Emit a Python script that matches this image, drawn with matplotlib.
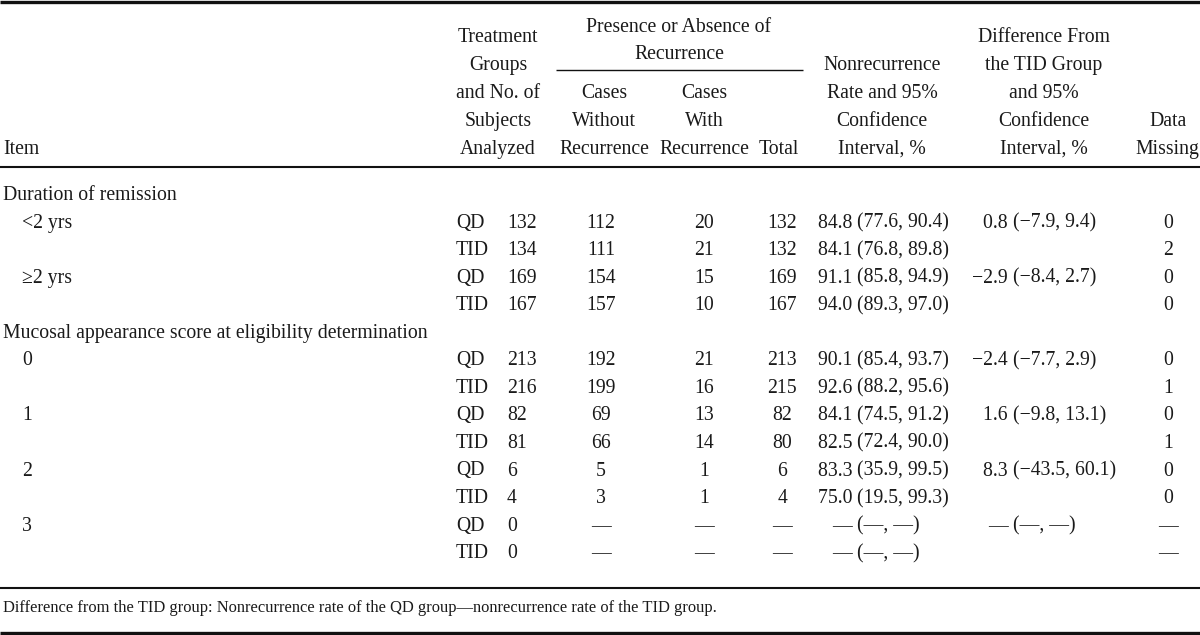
import matplotlib
matplotlib.use("Agg")
import matplotlib.pyplot as plt

# ---------------- data ----------------
sections = ["Duration of remission",
            "Mucosal appearance score at eligibility determination"]
subgroups = ["<2 yrs", "\u22652 yrs", "0", "1", "2", "3"]
subgroup_section = [0, 0, 1, 1, 1, 1]
treatment = ["QD", "TID"] * 6
n_analyzed = [132, 134, 169, 167, 213, 216, 82, 81, 6, 4, 0, 0]
cases_without = [112, 111, 154, 157, 192, 199, 69, 66, 5, 3, None, None]
cases_with = [20, 21, 15, 10, 21, 16, 13, 14, 1, 1, None, None]
totals = [132, 132, 169, 167, 213, 215, 82, 80, 6, 4, None, None]
rate = [84.8, 84.1, 91.1, 94.0, 90.1, 92.6, 84.1, 82.5, 83.3, 75.0, None, None]
rate_lo = [77.6, 76.8, 85.8, 89.3, 85.4, 88.2, 74.5, 72.4, 35.9, 19.5, None, None]
rate_hi = [90.4, 89.8, 94.9, 97.0, 93.7, 95.6, 91.2, 90.0, 99.5, 99.3, None, None]
diff = [0.8, -2.9, -2.4, 1.6, 8.3, None]
diff_lo = [-7.9, -8.4, -7.7, -9.8, -43.5, None]
diff_hi = [9.4, 2.7, 2.9, 13.1, 60.1, None]
missing = [0, 2, 0, 0, 0, 1, 0, 1, 0, 0, None, None]
footnote = ("Difference from the TID group: Nonrecurrence rate of the QD group\u2014"
            "nonrecurrence rate of the TID group.")

DASH = "\u2014"


def fmt(v):
    if v is None:
        return DASH
    s = f"{abs(v):.1f}"
    return ("\u2212" + s) if v < 0 else s


def fmt_int(v):
    return DASH if v is None else str(v)


# ---------------- figure ----------------
W, H = 1200, 635
fig = plt.figure(figsize=(W / 100, H / 100), dpi=100)
ax = fig.add_axes([0, 0, 1, 1])
ax.set_xlim(0, W)
ax.set_ylim(H, 0)
ax.axis("off")

FONT = "Liberation Serif"
FS = 14.2
FS_NOTE = 11.9
COL = "#1a1a1a"


def t(x, y, s, ha="left", fs=FS):
    ax.text(x, y, s, ha=ha, va="baseline", fontsize=fs, family=FONT, color=COL)


def hline(y, x0, x1, lw):
    ax.plot([x0, x1], [y, y], color="#111111", lw=lw, solid_capstyle="butt")


# rules
hline(1.5, 0, W, 2.4)
hline(166.5, 0, W, 1.5)
hline(70, 556, 803, 1.0)
hline(588, 0, W, 1.5)
hline(632.5, 0, W, 2.4)

# header
hb = [42, 70, 98, 126, 154]
t(3, hb[4], "Item")
for i, s in enumerate(["Treatment", "Groups", "and No. of", "Subjects", "Analyzed"]):
    t(498, hb[i], s, "center")
t(679, 32, "Presence or Absence of", "center")
t(679, 59, "Recurrence", "center")
for i, s in enumerate(["Cases", "Without", "Recurrence"]):
    t(604, hb[i + 2], s, "center")
for i, s in enumerate(["Cases", "With", "Recurrence"]):
    t(704, hb[i + 2], s, "center")
t(779, hb[4], "Total", "center")
for i, s in enumerate(["Nonrecurrence", "Rate and 95%", "Confidence", "Interval, %"]):
    t(882, hb[i + 1], s, "center")
for i, s in enumerate(["Difference From", "the TID Group", "and 95%", "Confidence", "Interval, %"]):
    t(1044, hb[i], s, "center")
t(1168, hb[3], "Data", "center")
t(1167, hb[4], "Missing", "center")

# body
step = 27.55
y0 = 200
line = 0
sec_done = set()
for g, sub in enumerate(subgroups):
    sec = subgroup_section[g]
    if sec not in sec_done:
        t(3, y0 + line * step, sections[sec])
        sec_done.add(sec)
        line += 1
    t(22, y0 + line * step, sub)
    for k in range(2):
        r = 2 * g + k
        y = y0 + line * step
        t(456, y, treatment[r])
        t(507, y, str(n_analyzed[r]))
        t(601, y, fmt_int(cases_without[r]), "center")
        t(704, y, fmt_int(cases_with[r]), "center")
        t(782, y, fmt_int(totals[r]), "center")
        t(857, y, fmt(rate[r]) + " ", "right")
        t(857, y, f"({fmt(rate_lo[r])}, {fmt(rate_hi[r])})", "left")
        if k == 0:
            t(1013, y, fmt(diff[g]) + " ", "right")
            t(1013, y, f"({fmt(diff_lo[g])}, {fmt(diff_hi[g])})", "left")
        t(1168, y, fmt_int(missing[r]), "center")
        line += 1

t(3, 611.5, footnote, fs=FS_NOTE)

fig.savefig("out.png", dpi=100, facecolor="white")
